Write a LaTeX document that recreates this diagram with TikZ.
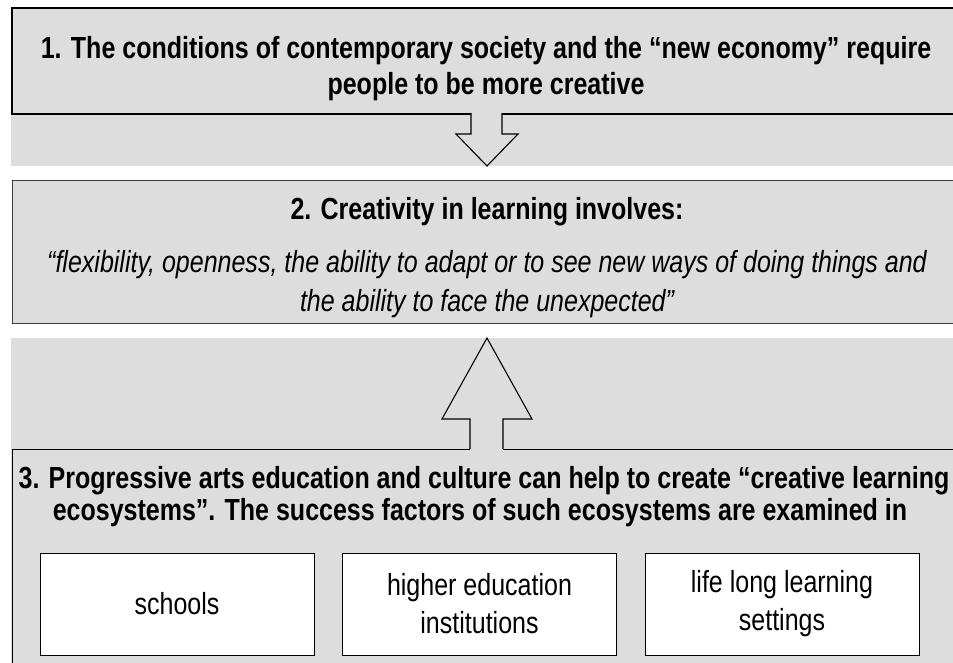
\documentclass[tikz,border=0pt]{standalone}
\usepackage{fontspec}
\setmainfont{Liberation Sans}[FakeStretch=0.82]
\definecolor{boxgray}{RGB}{221,221,221}
\definecolor{edgegray}{RGB}{60,60,60}
\begin{document}
\begin{tikzpicture}[x=1pt,y=-1pt,
  txt/.style={font=\fontsize{30.5}{38}\selectfont, inner sep=0pt, anchor=base},
  bigbox/.style={anchor=north west, inner sep=0pt, fill=boxgray},
  smallbox/.style={draw=black, line width=1pt, fill=white, minimum width=274pt,
    minimum height=102pt, align=center, inner sep=0pt,
    font=\fontsize{30.5}{38}\selectfont},
  blockarrow/.style={draw=black, line width=1.1pt, line join=miter}]
\useasboundingbox (0,0) rectangle (953,663);
\clip (0,0) rectangle (953,663);
% gray bands
\fill[boxgray] (11,7) rectangle (963,166);
\fill[boxgray] (11,338) rectangle (963,663);
% box 1
\node[bigbox, draw=black, line width=1.6pt, minimum width=952pt, minimum height=106pt] (box1) at (11,7) {};
% box 2
\node[bigbox, draw=edgegray, line width=1.3pt, minimum width=951pt, minimum height=143pt] (box2) at (12,180) {};
% box 3
\node[bigbox, draw=black, line width=1.3pt, minimum width=951pt, minimum height=230pt] (box3) at (12,449) {};
% down arrow
\coordinate (dtip) at (487,166);
\fill[boxgray] (471,111) rectangle (502,134);
\fill[boxgray] (456,134) -- (dtip) -- (518,134) -- cycle;
\draw[blockarrow] (471,113) -- (471,134) -- (456,134) -- (dtip) -- (518,134) -- (502,134) -- (502,113);
% up arrow
\coordinate (utip) at (487,338);
\fill[boxgray] (470,419) rectangle (503,451);
\fill[boxgray] (442,419) -- (utip) -- (532,419) -- cycle;
\draw[blockarrow] (470,449) -- (470,419) -- (442,419) -- (utip) -- (532,419) -- (503,419) -- (503,449);
% texts box 1
\node[txt] (t1a) at (486,59) {\bfseries 1. The conditions of contemporary society and the “new economy” require};
\node[txt] (t1b) at (486,95) {\bfseries people to be more creative};
% texts box 2
\node[txt] (t2a) at (487,219) {\bfseries 2. Creativity in learning involves:};
\node[txt] (t2b) at (487,272) {\itshape “flexibility, openness, the ability to adapt or to see new ways of doing things and};
\node[txt] (t2c) at (487,311) {\itshape the ability to face the unexpected”};
% texts box 3
\node[txt] (t3a) at (484,488) {\bfseries 3. Progressive arts education and culture can help to create “creative learning};
\node[txt] (t3b) at (480,520) {\bfseries ecosystems”. The success factors of such ecosystems are examined in};
% small boxes
\node[smallbox] (s1) at (177,604) {schools};
\node[smallbox] (s2) at (479.5,604) {higher education\\institutions};
\node[smallbox] (s3) at (782,604) {life long learning\\settings};
\end{tikzpicture}
\end{document}
